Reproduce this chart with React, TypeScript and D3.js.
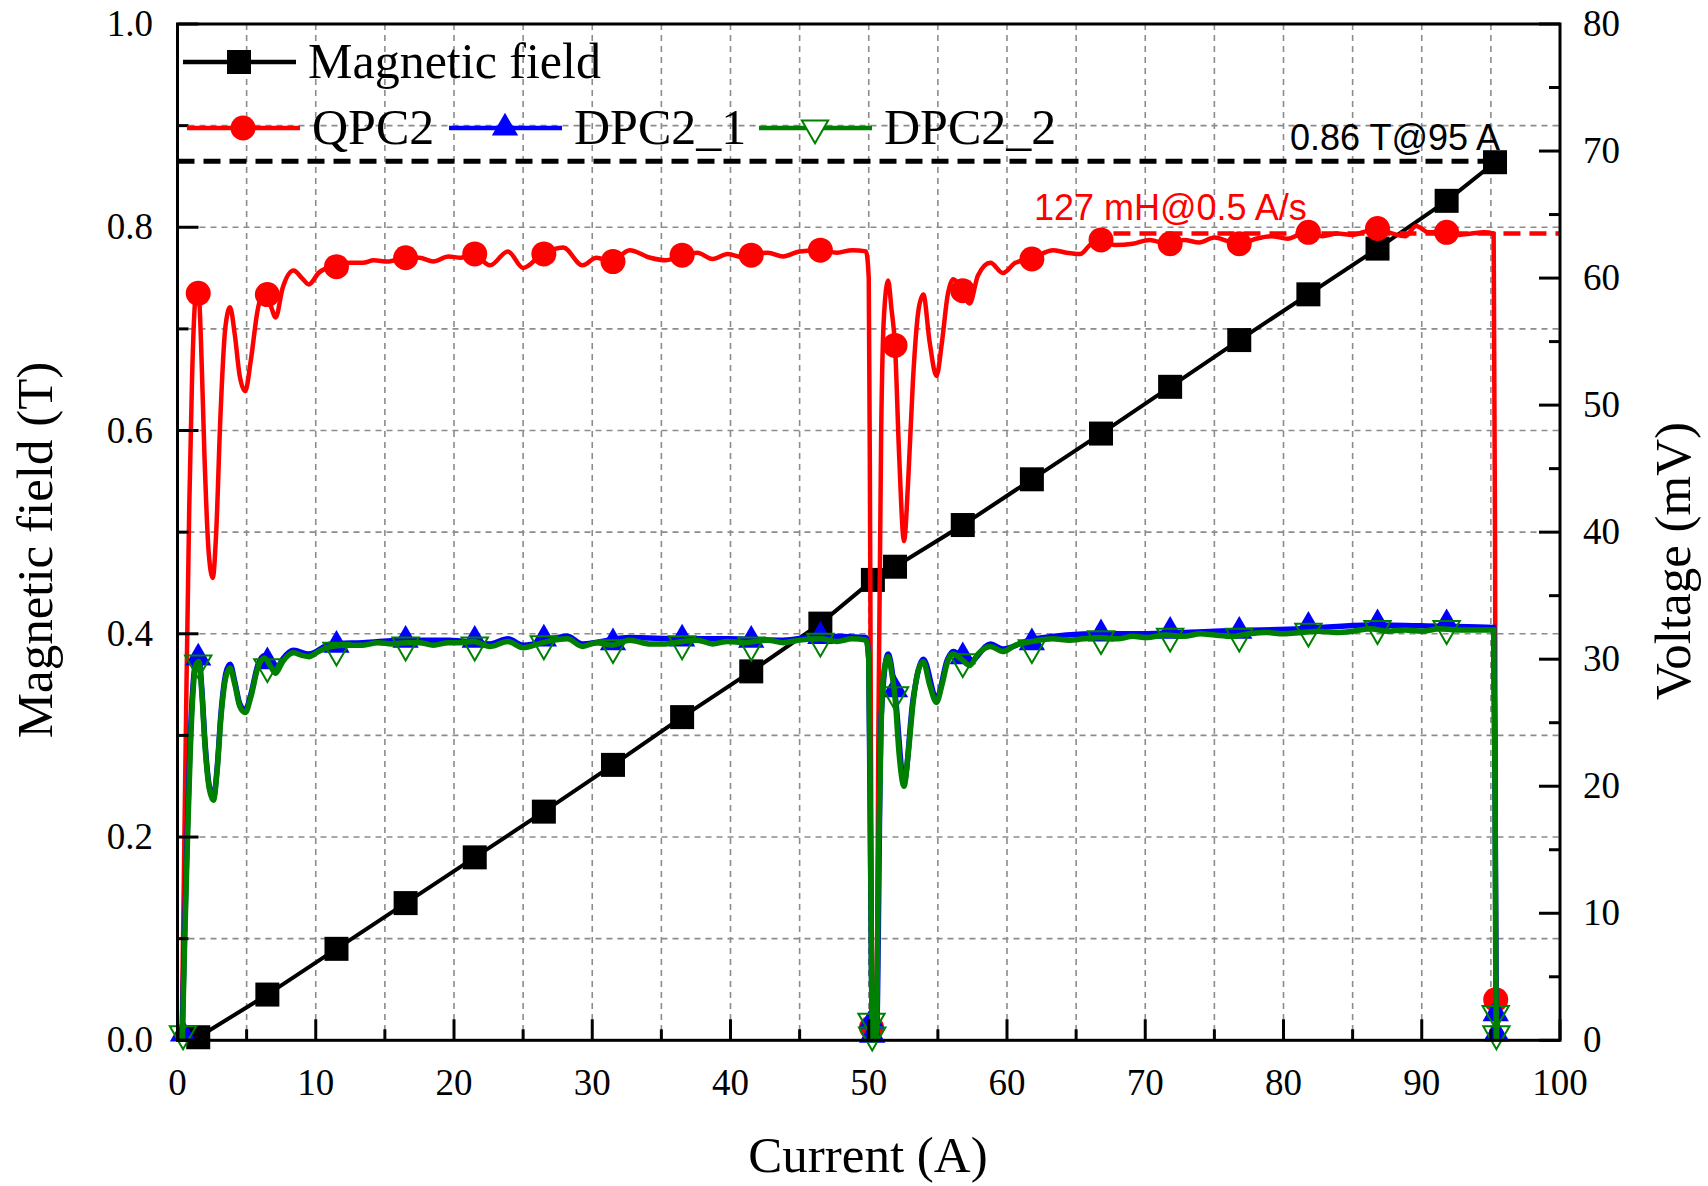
import React, { useEffect, useRef } from 'react';
import * as d3 from 'd3';

const W = 1708;
const H = 1186;

// magnetic field (T) vs current (A)
const fieldLine: [number, number][] = [
  [1.5, 0.003], [6.5, 0.045], [11.5, 0.09], [16.5, 0.135], [21.5, 0.18], [26.5, 0.225],
  [31.5, 0.271], [36.5, 0.318], [41.5, 0.363], [46.5, 0.41], [50.3, 0.453], [51.9, 0.466],
  [56.8, 0.507], [61.8, 0.552], [66.8, 0.597], [71.8, 0.643], [76.8, 0.689], [81.8, 0.734],
  [86.8, 0.779], [91.8, 0.826], [95.3, 0.864]
];

// QPC2 voltage (mV)
const qpcLine: [number, number][] = [
  [0.3, 0], [0.45, 12], [0.65, 28], [0.85, 42], [1.05, 52], [1.3, 58.5], [1.5, 59.3], [1.7, 55], [1.95, 46],
  [2.25, 38.5], [2.55, 36.4], [2.8, 40], [3.1, 49], [3.45, 56], [3.8, 57.7], [4.15, 55.5], [4.5, 52.3],
  [4.9, 51.1], [5.3, 53.5], [5.8, 57.5], [6.3, 58.9], [6.75, 57.8], [7.1, 56.9], [7.6, 59.2], [8.4, 60.6],
  [9.0, 60.0], [9.5, 59.5], [10.2, 60.4], [11.4, 61.0], [12.3, 61.2], [13.4, 61.2], [14.2, 61.4], [15.2, 61.3],
  [16.5, 61.6], [17.5, 61.6], [18.5, 61.3], [19.6, 61.7], [20.5, 61.6], [21.4, 61.9], [22.6, 61.0], [23.9, 62.1],
  [25.0, 60.8], [26.4, 61.9], [27.9, 62.4], [29.3, 61.0], [30.3, 61.6], [31.4, 61.3], [32.7, 62.2], [34.2, 61.6],
  [35.3, 61.4], [36.5, 61.8], [37.6, 62.0], [38.7, 61.5], [39.8, 61.9], [41.0, 61.6], [41.5, 61.8], [42.7, 62.0],
  [43.8, 61.7], [45.0, 62.1], [46.5, 62.2], [47.7, 62.0], [48.8, 62.2], [49.8, 62.1], [50.0, 60], [50.1, 40],
  [50.2, 12], [50.3, 0], [50.55, 0], [50.7, 25], [50.9, 48], [51.1, 57], [51.4, 59.8], [51.65, 57.5],
  [51.9, 54.7], [52.2, 46], [52.55, 39.3], [52.85, 44], [53.2, 52], [53.6, 57.5], [53.95, 58.7], [54.4, 55],
  [54.9, 52.3], [55.3, 55], [55.7, 58.6], [56.1, 59.9], [56.7, 59.2], [57.3, 58.0], [57.9, 60.2], [58.8, 61.2],
  [59.7, 60.4], [60.6, 61.2], [61.7, 61.5], [62.5, 61.9], [63.3, 62.2], [64.3, 62.0], [65.3, 61.9], [66.0, 62.6],
  [66.7, 63.0], [67.8, 62.6], [69.1, 62.7], [70.3, 63.0], [71.6, 62.7], [72.8, 63.0], [73.9, 62.8], [75.0, 63.2],
  [76.0, 62.9], [76.9, 62.7], [78.0, 63.1], [79.1, 63.3], [80.3, 63.1], [81.6, 63.6], [82.8, 63.3], [83.9, 63.5],
  [85.0, 63.4], [86.0, 63.7], [86.8, 63.9], [87.9, 63.5], [88.8, 63.3], [89.6, 64.1], [90.5, 63.6], [91.7, 63.7],
  [92.7, 63.4], [93.6, 63.5], [94.5, 63.6], [95.2, 63.5], [95.3, 40], [95.35, 15], [95.38, 3], [95.4, 0]
];
const qpcMarks: [number, number][] = [
  [1.5, 58.8], [6.5, 58.7], [11.5, 60.9], [16.5, 61.6], [21.5, 61.9], [26.5, 61.9], [31.5, 61.3],
  [36.5, 61.8], [41.5, 61.8], [46.5, 62.2], [50.2, 1.0], [51.9, 54.7], [56.8, 59.0], [61.8, 61.5],
  [66.8, 63.0], [71.8, 62.7], [76.8, 62.7], [81.8, 63.6], [86.8, 63.9], [91.8, 63.6], [95.35, 3.2]
];

// DPC2_1 voltage (mV)
const dpc1Line: [number, number][] = [
  [0.33, 0], [0.5, 8], [0.7, 16], [0.9, 23], [1.1, 27.6], [1.35, 30.0], [1.55, 30.1], [1.75, 27.8], [2.0, 23.3],
  [2.3, 20.0], [2.6, 19.1], [2.85, 21.2], [3.15, 25.8], [3.5, 28.9], [3.8, 29.6], [4.15, 28.2], [4.5, 26.5],
  [4.9, 26.0], [5.3, 27.2], [5.8, 29.5], [6.3, 30.3], [6.75, 29.7], [7.1, 29.1], [7.6, 30.0], [8.4, 30.7],
  [9.5, 30.4], [11.1, 31.2], [13.4, 31.3], [16.5, 31.5], [19.6, 31.5], [22.6, 31.2], [23.9, 31.6], [25.0, 31.1],
  [28.2, 31.8], [29.3, 31.2], [32.7, 31.7], [36.5, 31.6], [39.8, 31.6], [43.8, 31.5], [46.5, 31.8], [49.8, 31.7],
  [50.0, 30], [50.2, 5], [50.3, 0], [50.55, 0], [50.9, 25.5], [51.4, 30.4], [51.9, 27.3], [52.55, 20.3],
  [53.2, 26.8], [53.95, 30.0], [54.9, 26.9], [55.7, 30.0], [56.1, 30.6], [57.3, 29.8], [58.8, 31.2], [59.7, 30.8],
  [61.9, 31.6], [66.7, 32.0], [70.1, 32.0], [75.0, 32.2], [81.3, 32.4], [86.3, 32.7], [91.3, 32.6], [95.2, 32.5],
  [95.3, 20], [95.4, 0]
];
const dpc1Marks: [number, number][] = [
  [0.4, 0.5], [1.5, 30.1], [6.5, 29.8], [11.5, 31.1], [16.5, 31.5], [21.5, 31.5], [26.5, 31.6], [31.5, 31.3],
  [36.5, 31.6], [41.5, 31.5], [46.5, 31.8], [50.2, 1.5], [50.25, 0.4], [51.9, 27.6], [56.8, 30.2], [61.8, 31.3],
  [66.8, 32.0], [71.8, 32.2], [76.8, 32.2], [81.8, 32.6], [86.8, 32.8], [91.8, 32.8], [95.35, 2.1], [95.4, 0.5]
];

// DPC2_2 voltage (mV)
const dpc2Line: [number, number][] = [
  [0.35, 0], [0.5, 7], [0.7, 15], [0.9, 22], [1.1, 27], [1.35, 29.6], [1.55, 29.8], [1.75, 27.5], [2.0, 23],
  [2.3, 19.8], [2.6, 18.9], [2.85, 21], [3.15, 25.5], [3.5, 28.6], [3.8, 29.3], [4.15, 28.0], [4.5, 26.3],
  [4.9, 25.8], [5.3, 27.0], [5.8, 29.3], [6.3, 30.1], [6.75, 29.4], [7.1, 28.9], [7.6, 29.8], [8.4, 30.5],
  [9.0, 30.3], [9.5, 30.2], [10.2, 30.6], [11.1, 31.0], [12.3, 31.1], [13.4, 31.1], [14.5, 31.3], [15.5, 31.2],
  [16.5, 31.3], [17.5, 31.3], [18.5, 31.1], [19.6, 31.3], [20.5, 31.3], [21.4, 31.4], [22.6, 31.0], [23.9, 31.4],
  [25.0, 30.9], [26.4, 31.3], [28.2, 31.6], [29.3, 31.0], [30.3, 31.3], [31.4, 31.1], [32.7, 31.5], [34.2, 31.2],
  [35.3, 31.2], [36.5, 31.4], [37.6, 31.5], [38.7, 31.2], [39.8, 31.4], [41.0, 31.3], [42.7, 31.5], [43.8, 31.3],
  [45.0, 31.5], [46.5, 31.6], [47.7, 31.4], [48.8, 31.6], [49.8, 31.5], [50.0, 30], [50.1, 20], [50.2, 5],
  [50.3, 0], [50.55, 0], [50.7, 14], [50.9, 25], [51.1, 29], [51.4, 30.2], [51.65, 29], [51.9, 27],
  [52.2, 22.5], [52.55, 20.0], [52.85, 22.5], [53.2, 26.5], [53.6, 29.2], [53.95, 29.8], [54.4, 28], [54.9, 26.6],
  [55.3, 28], [55.7, 29.8], [56.1, 30.4], [56.7, 30.0], [57.3, 29.5], [57.9, 30.4], [58.8, 31.0], [59.7, 30.6],
  [60.6, 31.1], [61.9, 31.4], [63.3, 31.6], [64.5, 31.5], [65.5, 31.6], [66.7, 31.7], [68.0, 31.6], [69.1, 31.8],
  [70.1, 31.7], [71.5, 31.9], [72.8, 31.8], [74.0, 32.0], [75.0, 31.9], [76.3, 31.8], [77.5, 32.0], [78.8, 32.1],
  [80.0, 32.0], [81.3, 32.1], [82.5, 32.2], [83.8, 32.1], [85.0, 32.2], [86.3, 32.4], [87.5, 32.2], [88.8, 32.3],
  [90.0, 32.2], [91.3, 32.4], [92.5, 32.3], [93.8, 32.3], [95.2, 32.3], [95.3, 20], [95.35, 6], [95.4, 0]
];
const dpc2Marks: [number, number][] = [
  [0.4, 0.5], [1.5, 29.7], [6.5, 29.4], [11.5, 30.7], [16.5, 31.1], [21.5, 31.1], [26.5, 31.2], [31.5, 30.9],
  [36.5, 31.2], [41.5, 31.1], [46.5, 31.4], [50.2, 1.5], [50.25, 0.4], [51.9, 27.2], [56.8, 29.8], [61.8, 30.9],
  [66.8, 31.6], [71.8, 31.8], [76.8, 31.8], [81.8, 32.2], [86.8, 32.4], [91.8, 32.4], [95.35, 2.1], [95.4, 0.5]
];

const xTicks = [0, 10, 20, 30, 40, 50, 60, 70, 80, 90, 100];
const fieldTicks = ['0.0', '0.2', '0.4', '0.6', '0.8', '1.0'];
const voltTicks = [0, 10, 20, 30, 40, 50, 60, 70, 80];

const fieldMark = 0.865;   // 0.86 T@95 A
const fieldMarkEnd = 95.3;
const voltMark = 63.5;     // 127 mH x 0.5 A/s
const voltMarkStart = 67.7;

const serif = '"Liberation Serif", "Times New Roman", serif';
const sans = '"Liberation Sans", Arial, sans-serif';

function drawChart(el: SVGSVGElement) {
  const svg = d3.select(el);
  svg.selectAll('*').remove();

  const left = 177.5, right = 1560, top = 24, bottom = 1040.3;
  const x = d3.scaleLinear().domain([0, 100]).range([left, right]);
  const yB = d3.scaleLinear().domain([0, 1]).range([bottom, top]);
  const yV = d3.scaleLinear().domain([0, 80]).range([bottom, top]);

  svg.append('rect').attr('width', W).attr('height', H).attr('fill', '#fff');

  // dashed grid
  const grid = svg.append('g').attr('stroke', '#8c8c8c').attr('stroke-width', 1.6).attr('stroke-dasharray', '6,5');
  d3.range(5, 100, 5).forEach(v => {
    grid.append('line').attr('x1', x(v)).attr('x2', x(v)).attr('y1', top).attr('y2', bottom);
  });
  d3.range(1, 10).forEach(i => {
    grid.append('line').attr('x1', left).attr('x2', right).attr('y1', yB(i / 10)).attr('y2', yB(i / 10));
  });

  const lineB = d3.line<[number, number]>().x(d => x(d[0])).y(d => yB(d[1]));
  const lineV = d3.line<[number, number]>().x(d => x(d[0])).y(d => yV(d[1])).curve(d3.curveMonotoneX);

  // magnetic field
  svg.append('path').attr('d', lineB(fieldLine)).attr('fill', 'none').attr('stroke', '#000').attr('stroke-width', 4);
  svg.selectAll('.sq').data(fieldLine).enter().append('rect')
    .attr('x', d => x(d[0]) - 12).attr('y', d => yB(d[1]) - 12)
    .attr('width', 24).attr('height', 24).attr('fill', '#000');

  // QPC2
  svg.append('path').attr('d', lineV(qpcLine)).attr('fill', 'none').attr('stroke', '#ff0000').attr('stroke-width', 4.5);
  svg.selectAll('.ci').data(qpcMarks).enter().append('circle')
    .attr('cx', d => x(d[0])).attr('cy', d => yV(d[1])).attr('r', 12.5).attr('fill', '#ff0000');

  const triUp = d3.symbol().type(d3.symbolTriangle).size(300);

  // DPC2_1
  svg.append('path').attr('d', lineV(dpc1Line)).attr('fill', 'none').attr('stroke', '#0000ff').attr('stroke-width', 5.5);
  svg.selectAll('.tu').data(dpc1Marks).enter().append('path')
    .attr('d', triUp()).attr('transform', d => `translate(${x(d[0])},${yV(d[1])})`).attr('fill', '#0000ff');

  // DPC2_2
  svg.append('path').attr('d', lineV(dpc2Line)).attr('fill', 'none').attr('stroke', '#008000').attr('stroke-width', 5.5);
  svg.selectAll('.td').data(dpc2Marks).enter().append('path')
    .attr('d', triUp()).attr('transform', d => `translate(${x(d[0])},${yV(d[1])}) rotate(180)`)
    .attr('fill', 'none').attr('stroke', '#008000').attr('stroke-width', 2);

  // annotation lines
  svg.append('line').attr('x1', left).attr('x2', x(fieldMarkEnd)).attr('y1', yB(fieldMark)).attr('y2', yB(fieldMark))
    .attr('stroke', '#000').attr('stroke-width', 5).attr('stroke-dasharray', '17,9');
  svg.append('line').attr('x1', x(voltMarkStart)).attr('x2', right).attr('y1', yV(voltMark)).attr('y2', yV(voltMark))
    .attr('stroke', '#ff0000').attr('stroke-width', 4.5).attr('stroke-dasharray', '17,9');

  svg.append('text').attr('x', 1290).attr('y', 150).attr('font-family', sans).attr('font-size', 36)
    .attr('fill', '#000').text('0.86 T@95 A');
  svg.append('text').attr('x', 1034).attr('y', 220).attr('font-family', sans).attr('font-size', 36)
    .attr('fill', '#ff0000').text('127 mH@0.5 A/s');

  // ticks
  const ticks = svg.append('g').attr('stroke', '#000').attr('stroke-width', 3);
  d3.range(0, 101, 5).forEach(v => {
    const len = v % 10 === 0 ? 21 : 11;
    ticks.append('line').attr('x1', x(v)).attr('x2', x(v)).attr('y1', bottom).attr('y2', bottom - len);
  });
  d3.range(0, 11).forEach(i => {
    const len = i % 2 === 0 ? 21 : 11;
    ticks.append('line').attr('x1', left).attr('x2', left + len).attr('y1', yB(i / 10)).attr('y2', yB(i / 10));
  });
  d3.range(0, 81, 5).forEach(v => {
    const len = v % 10 === 0 ? 21 : 11;
    ticks.append('line').attr('x1', right).attr('x2', right - len).attr('y1', yV(v)).attr('y2', yV(v));
  });

  // frame
  svg.append('rect').attr('x', left).attr('y', top).attr('width', right - left).attr('height', bottom - top)
    .attr('fill', 'none').attr('stroke', '#000').attr('stroke-width', 3);

  // tick labels
  const labels = svg.append('g').attr('font-family', serif).attr('font-size', 37).attr('fill', '#000');
  xTicks.forEach(v => {
    labels.append('text').attr('x', x(v)).attr('y', 1095).attr('text-anchor', 'middle').text(v);
  });
  fieldTicks.forEach(t => {
    labels.append('text').attr('x', 153).attr('y', yB(+t) + 12).attr('text-anchor', 'end').text(t);
  });
  voltTicks.forEach(v => {
    labels.append('text').attr('x', 1583).attr('y', yV(v) + 12).text(v);
  });

  // axis titles
  const titles = svg.append('g').attr('font-family', serif).attr('font-size', 51).attr('fill', '#000');
  titles.append('text').attr('x', 868).attr('y', 1172).attr('text-anchor', 'middle').text('Current (A)');
  titles.append('text').attr('transform', 'translate(52,550) rotate(-90)').attr('text-anchor', 'middle').text('Magnetic field (T)');
  titles.append('text').attr('transform', 'translate(1690,561) rotate(-90)').attr('text-anchor', 'middle').text('Voltage (mV)');

  // legend
  const lg = svg.append('g').attr('font-family', serif).attr('font-size', 50);
  const addItem = (x0: number, y0: number, color: string, label: string, kind: string) => {
    lg.append('line').attr('x1', x0).attr('x2', x0 + 113).attr('y1', y0).attr('y2', y0)
      .attr('stroke', color).attr('stroke-width', 4.5);
    const cx = x0 + 56;
    if (kind === 'square') {
      lg.append('rect').attr('x', cx - 12).attr('y', y0 - 12).attr('width', 24).attr('height', 24).attr('fill', color);
    } else if (kind === 'circle') {
      lg.append('circle').attr('cx', cx).attr('cy', y0).attr('r', 12.5).attr('fill', color);
    } else if (kind === 'up') {
      lg.append('path').attr('d', triUp()).attr('transform', `translate(${cx},${y0})`).attr('fill', color);
    } else {
      lg.append('path').attr('d', triUp()).attr('transform', `translate(${cx},${y0}) rotate(180)`)
        .attr('fill', '#fff').attr('stroke', color).attr('stroke-width', 2);
    }
    lg.append('text').attr('x', x0 + 125).attr('y', y0 + 16).attr('fill', '#000').text(label);
  };
  addItem(183, 62, '#000', 'Magnetic field', 'square');
  addItem(187, 128, '#ff0000', 'QPC2', 'circle');
  addItem(449, 128, '#0000ff', 'DPC2_1', 'up');
  addItem(759, 128, '#008000', 'DPC2_2', 'down');
}

export default function App() {
  const svgRef = useRef<SVGSVGElement>(null);

  useEffect(() => {
    if (svgRef.current) drawChart(svgRef.current);
  }, []);

  return (
    <svg ref={svgRef} width={W} height={H} style={{ position: 'absolute', left: 0, top: 0 }}></svg>
  );
}
